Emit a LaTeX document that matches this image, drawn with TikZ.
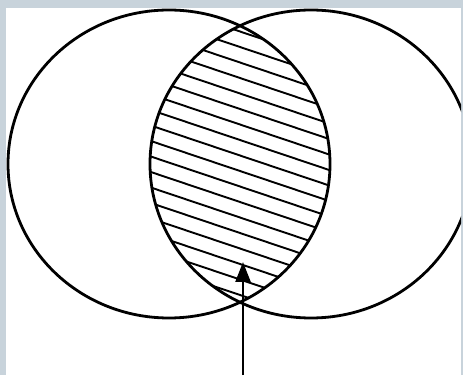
\documentclass[tikz,border=0pt]{standalone}
\usetikzlibrary{arrows.meta}
\definecolor{frame}{RGB}{200,211,219}
\tikzset{
  setline/.style={line width=2.8pt, black},
  hatchline/.style={line width=1.9pt, black},
  pointer/.style={line width=2.4pt, black, -{Triangle[length=20pt,width=15pt]}}
}
\begin{document}
\begin{tikzpicture}[x=1pt,y=1pt]
\useasboundingbox (0,0) rectangle (463,375);
\fill[frame] (0,0) rectangle (463,375);
\fill[white] (6,0) rectangle (461,367);
% hatching of the intersection
\begin{scope}
  \clip (169,211) ellipse [x radius=161, y radius=154];
  \clip (311,211) ellipse [x radius=161, y radius=154];
  \foreach \i in {0,...,45} {
    \draw[hatchline] (130,{24+\i*15.5}) -- ++(220,-74);
  }
\end{scope}
% the two sets
\begin{scope}
  \clip (6,0) rectangle (461,367);
  \draw[setline] (169,211) ellipse [x radius=161, y radius=154];
  \draw[setline] (311,211) ellipse [x radius=161, y radius=154];
\end{scope}
% arrow
\coordinate (tail) at (243,0);
\coordinate (tip) at (243,113);
\draw[pointer] (tail) -- (tip);
\end{tikzpicture}
\end{document}
